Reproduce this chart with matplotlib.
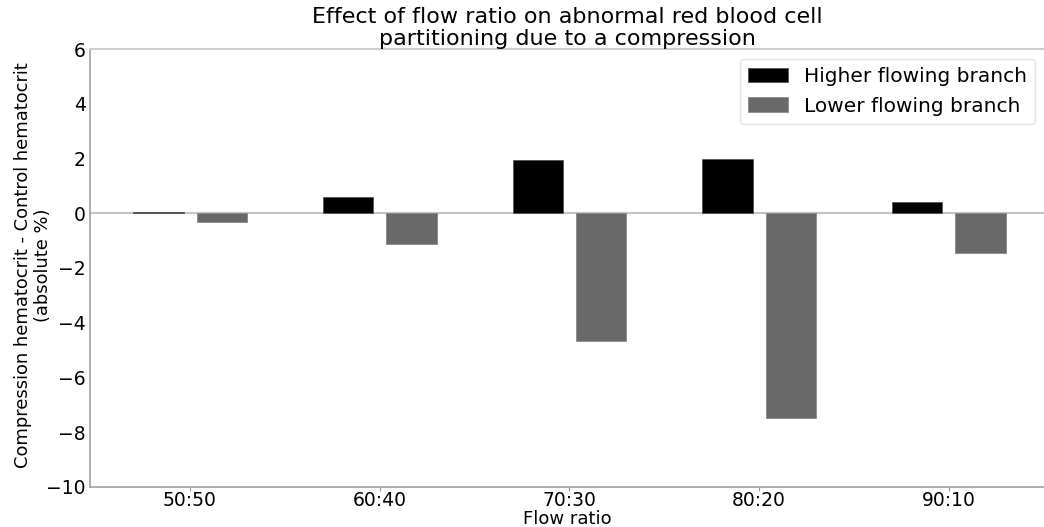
import matplotlib
matplotlib.use("Agg")
import matplotlib.pyplot as plt
import numpy as np

categories = ["50:50", "60:40", "70:30", "80:20", "90:10"]
higher = [0.03, 0.58, 1.93, 1.97, 0.40]
lower = [-0.33, -1.12, -4.68, -7.47, -1.46]

fig = plt.figure(figsize=(10.44, 5.27), dpi=100)
ax = fig.add_axes([0.0862, 0.076, 0.9138, 0.831])

x = np.arange(len(categories))
w = 0.266
ax.bar(x - 0.166, higher, w, color="black", edgecolor="#555555", linewidth=0.6, label="Higher flowing branch", zorder=3)
ax.bar(x + 0.168, lower, w, color="#696969", edgecolor="#888888", linewidth=0.6, label="Lower flowing branch", zorder=3)
ax.axhline(0, color="#c4c4c4", linewidth=1.5, zorder=2)

ax.set_xlim(-0.527, 4.503)
ax.set_ylim(-10, 6)
ax.set_xticks(x)
ax.set_xticklabels(categories)
ax.set_yticks(np.arange(-10, 7, 2))
ax.tick_params(axis="both", labelsize=13.5, colors="#999999", labelcolor="black")
ax.tick_params(axis="y", length=0, pad=3)
ax.tick_params(axis="x", length=3, pad=0)

for s in ["left", "bottom"]:
    ax.spines[s].set_color("#a0a0a0")
    ax.spines[s].set_linewidth(1.2)
ax.spines["top"].set_color("#cccccc")
ax.spines["top"].set_linewidth(1.5)
ax.spines["right"].set_visible(False)

ax.set_title("Effect of flow ratio on abnormal red blood cell\npartitioning due to a compression", fontsize=16, linespacing=1.15, pad=1)
ax.set_xlabel("Flow ratio", fontsize=13, labelpad=0)
ax.set_ylabel("Compression hematocrit - Control hematocrit\n(absolute %)", fontsize=12.9, linespacing=1.15)
ax.yaxis.set_label_coords(-0.040, 0.507)

leg = ax.legend(loc="upper right", fontsize=14.5, frameon=True, bbox_to_anchor=(0.997, 0.99),
                borderaxespad=0.3)
leg.get_frame().set_edgecolor("#dddddd")

fig.savefig("out.png", dpi=100)
